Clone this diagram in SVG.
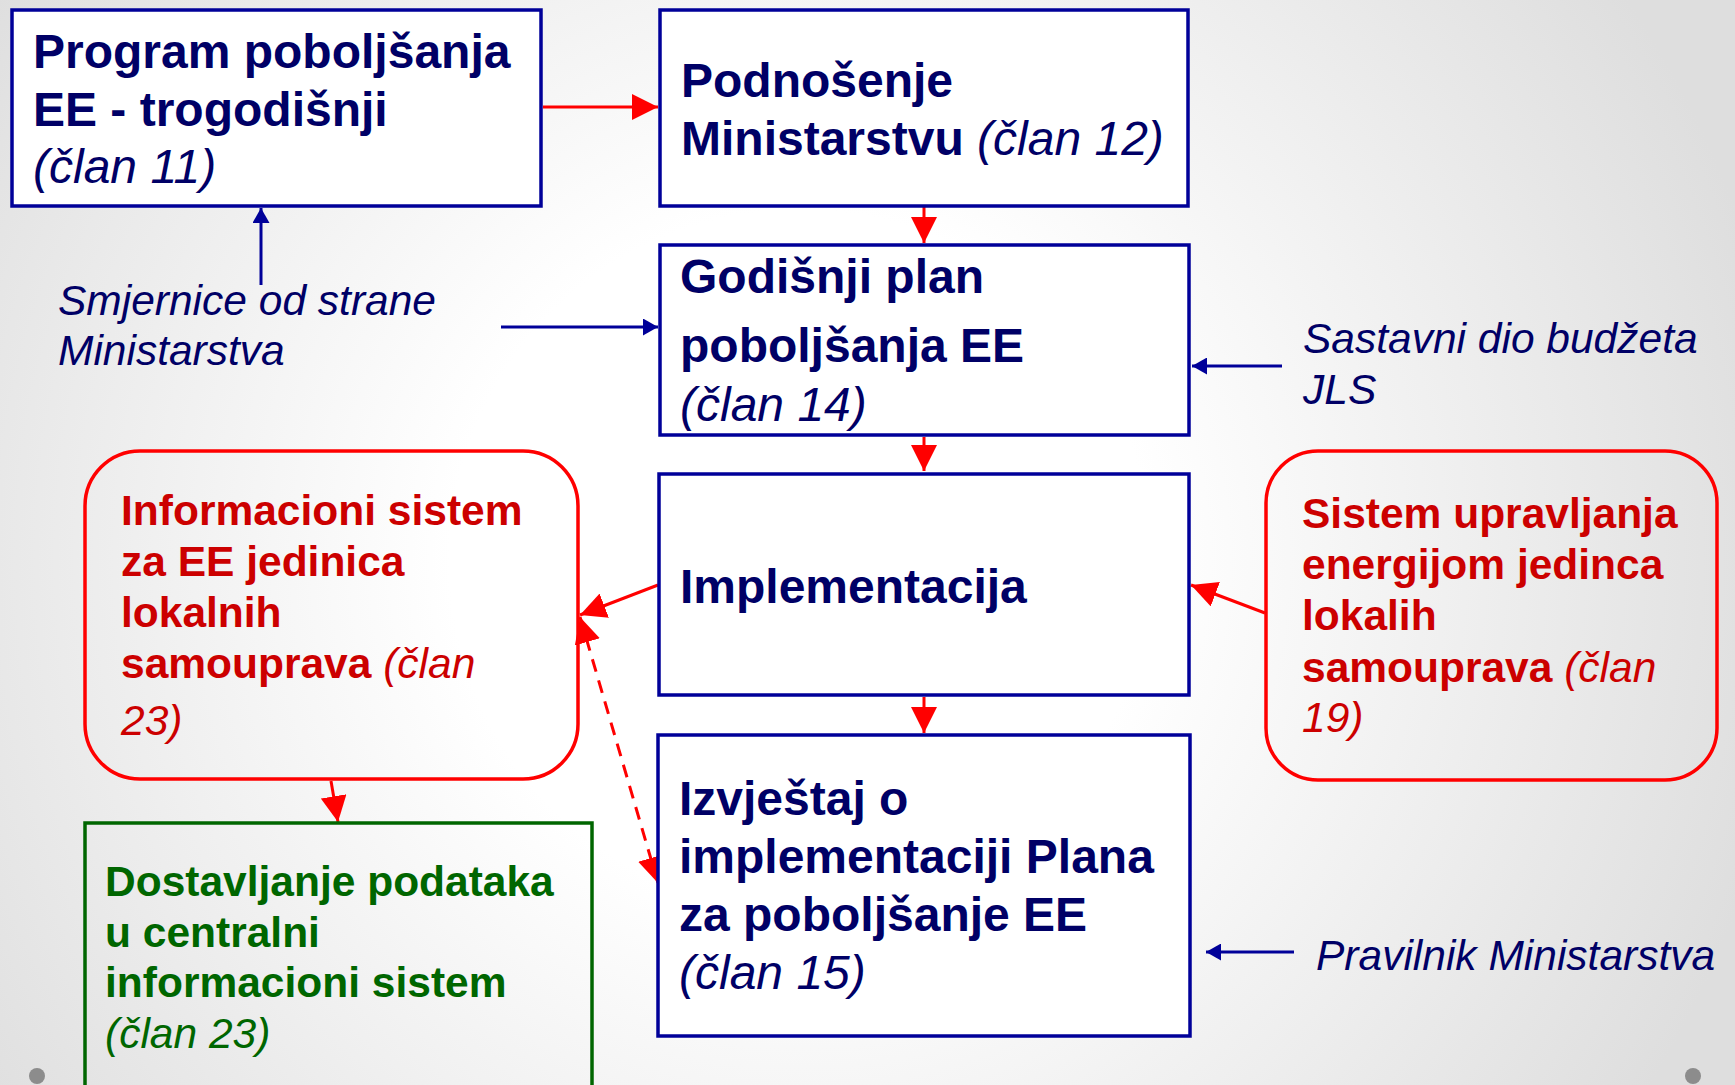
<svg xmlns="http://www.w3.org/2000/svg" width="1735" height="1085" viewBox="0 0 1735 1085">
<defs>
<radialGradient id="bg" gradientUnits="userSpaceOnUse" cx="800" cy="560" r="1000">
<stop offset="0.35" stop-color="#ffffff"/>
<stop offset="1" stop-color="#dedede"/>
</radialGradient>
<marker id="ar" markerUnits="userSpaceOnUse" markerWidth="26" markerHeight="26" refX="26" refY="13" orient="auto-start-reverse" viewBox="0 0 26 26">
<path d="M0,0 L26,13 L0,26 z" fill="#ff0000"/>
</marker>
<marker id="an" markerUnits="userSpaceOnUse" markerWidth="15" markerHeight="17" refX="15" refY="8.5" orient="auto" viewBox="0 0 15 17">
<path d="M0,0 L15,8.5 L0,17 z" fill="#000099"/>
</marker>
<style>
.bx{fill:#ffffff;stroke:#000099;stroke-width:3.5}
.rb{fill:none;stroke:#ff0000;stroke-width:3.5}
.gb{fill:none;stroke:#006600;stroke-width:3.5}
.t{font-family:"Liberation Sans",Arial,sans-serif;font-size:48px;font-weight:bold;fill:#000066}
.s{font-family:"Liberation Sans",Arial,sans-serif;font-size:42.5px;font-style:italic;fill:#000066}
.r{font-family:"Liberation Sans",Arial,sans-serif;font-size:42.5px;font-weight:bold;fill:#cc0000}
.g{font-family:"Liberation Sans",Arial,sans-serif;font-size:42.5px;font-weight:bold;fill:#006600}
text.it,tspan.it{font-style:italic;font-weight:normal}
.cr{fill:none;stroke:#ff0000;stroke-width:3;marker-end:url(#ar)}
.cn{fill:none;stroke:#000099;stroke-width:3;marker-end:url(#an)}
</style>
</defs>
<rect width="1735" height="1085" fill="url(#bg)"/>
<circle cx="37" cy="1076" r="8" fill="#8c8c8c"/>
<circle cx="1693" cy="1076" r="8" fill="#8c8c8c"/>

<g id="connectors">
<line class="cr" x1="543" y1="107" x2="658" y2="107"/>
<line class="cr" x1="924" y1="207" x2="924" y2="243"/>
<line class="cr" x1="924" y1="437" x2="924" y2="471"/>
<line class="cr" x1="924" y1="697" x2="924" y2="733"/>
<line class="cr" x1="658" y1="585" x2="580" y2="615"/>
<line class="cr" x1="1265" y1="613" x2="1191" y2="585"/>
<line class="cr" x1="331" y1="781" x2="338" y2="822"/>
<line x1="580" y1="617" x2="658" y2="883" fill="none" stroke="#ff0000" stroke-width="3" stroke-dasharray="13,9" marker-start="url(#ar)" marker-end="url(#ar)"/>
<line class="cn" x1="261" y1="285" x2="261" y2="208"/>
<line class="cn" x1="501" y1="327" x2="658" y2="327"/>
<line class="cn" x1="1282" y1="366" x2="1192" y2="366"/>
<line class="cn" x1="1294" y1="952" x2="1206" y2="952"/>
</g>

<g id="program">
<rect class="bx" x="12" y="10" width="529" height="196"/>
<text class="t" x="33" y="68">Program poboljšanja</text>
<text class="t" x="33" y="126">EE - trogodišnji</text>
<text class="t it" x="33" y="183">(član 11)</text>
</g>

<g id="podnosenje">
<rect class="bx" x="660" y="10" width="528" height="196"/>
<text class="t" x="681" y="97">Podnošenje</text>
<text class="t" x="681" y="155">Ministarstvu <tspan class="it">(član 12)</tspan></text>
</g>

<g id="godisnji">
<rect class="bx" x="660" y="245" width="529" height="190"/>
<text class="t" x="680" y="293">Godišnji plan</text>
<text class="t" x="680" y="362">poboljšanja EE</text>
<text class="t it" x="680" y="421">(član 14)</text>
</g>

<g id="implementacija">
<rect class="bx" x="659" y="474" width="530" height="221"/>
<text class="t" x="680" y="603">Implementacija</text>
</g>

<g id="izvjestaj">
<rect class="bx" x="658" y="735" width="532" height="301"/>
<text class="t" x="679" y="815">Izvještaj o</text>
<text class="t" x="679" y="873">implementaciji Plana</text>
<text class="t" x="679" y="931">za poboljšanje EE</text>
<text class="t it" x="679" y="989">(član 15)</text>
</g>

<g id="informacioni">
<rect class="rb" x="85" y="451" width="493" height="328" rx="55" ry="55"/>
<text class="r" x="121" y="525">Informacioni sistem</text>
<text class="r" x="121" y="576">za EE jedinica</text>
<text class="r" x="121" y="627">lokalnih</text>
<text class="r" x="121" y="678">samouprava <tspan class="it">(član</tspan></text>
<text class="r it" x="121" y="735">23)</text>
</g>

<g id="sistem">
<rect class="rb" x="1266" y="451" width="451" height="329" rx="52" ry="52"/>
<text class="r" x="1302" y="528">Sistem upravljanja</text>
<text class="r" x="1302" y="579">energijom jedinca</text>
<text class="r" x="1302" y="630">lokalih</text>
<text class="r" x="1302" y="682">samouprava <tspan class="it">(član</tspan></text>
<text class="r it" x="1302" y="732">19)</text>
</g>

<g id="dostavljanje">
<rect class="gb" x="85" y="823" width="507" height="300"/>
<text class="g" x="105" y="896">Dostavljanje podataka</text>
<text class="g" x="105" y="947">u centralni</text>
<text class="g" x="105" y="997">informacioni sistem</text>
<text class="g it" x="105" y="1048">(član 23)</text>
</g>

<g id="smjernice">
<text class="s" x="58" y="315">Smjernice od strane</text>
<text class="s" x="58" y="365">Ministarstva</text>
</g>

<g id="sastavni">
<text class="s" x="1303" y="353">Sastavni dio budžeta</text>
<text class="s" x="1303" y="404">JLS</text>
</g>

<g id="pravilnik">
<text class="s" x="1316" y="970">Pravilnik Ministarstva</text>
</g>
</svg>
